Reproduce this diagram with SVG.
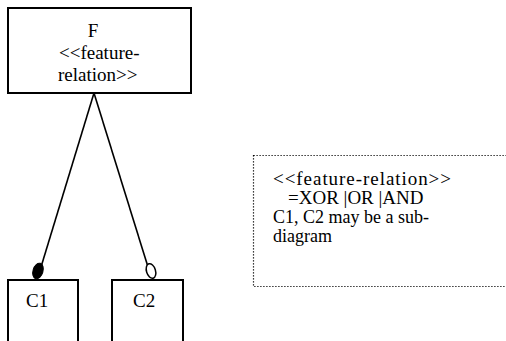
<svg xmlns="http://www.w3.org/2000/svg" width="506" height="341" viewBox="0 0 506 341">
<style>
.box{fill:#fff;stroke:#000;stroke-width:2}
.note{fill:#fff;stroke:#000;stroke-width:1.2;stroke-dasharray:1.2 1.8}
.t{font-family:"Liberation Serif","Times New Roman",serif;font-size:19px;fill:#000}
.ln{stroke:#000;stroke-width:1.6;fill:none}
</style>
<rect width="506" height="341" fill="#fff"/>
<g id="connectors">
<line class="ln" x1="94" y1="93" x2="41" y2="267"/>
<line class="ln" x1="94" y1="93" x2="148" y2="267"/>
<ellipse cx="38" cy="271" rx="5" ry="8" fill="#000" stroke="#000" stroke-width="1" transform="rotate(17 38 271)"/>
<ellipse cx="151" cy="271" rx="4.5" ry="7.5" fill="#fff" stroke="#000" stroke-width="1.5" transform="rotate(-17 151 271)"/>
</g>
<g id="F">
<rect class="box" x="8" y="8" width="183" height="85"/>
<text class="t" x="93" y="37" text-anchor="middle">F</text>
<text class="t" x="59" y="59">&lt;&lt;feature-</text>
<text class="t" x="58" y="81">relation&gt;&gt;</text>
</g>
<g id="C1">
<rect class="box" x="8" y="280" width="70" height="70"/>
<text class="t" x="26" y="307">C1</text>
</g>
<g id="C2">
<rect class="box" x="112" y="280" width="71" height="70"/>
<text class="t" x="133" y="307">C2</text>
</g>
<g id="note">
<rect class="note" x="253.5" y="155.5" width="270" height="131"/>
<text class="t" x="273" y="185" textLength="178" lengthAdjust="spacing">&lt;&lt;feature-relation&gt;&gt;</text>
<text class="t" x="288" y="204">=XOR |OR |AND</text>
<text class="t" x="273" y="223" style="font-size:18px">C1, C2 may be a sub-</text>
<text class="t" x="273" y="242" style="font-size:18px">diagram</text>
</g>
</svg>
